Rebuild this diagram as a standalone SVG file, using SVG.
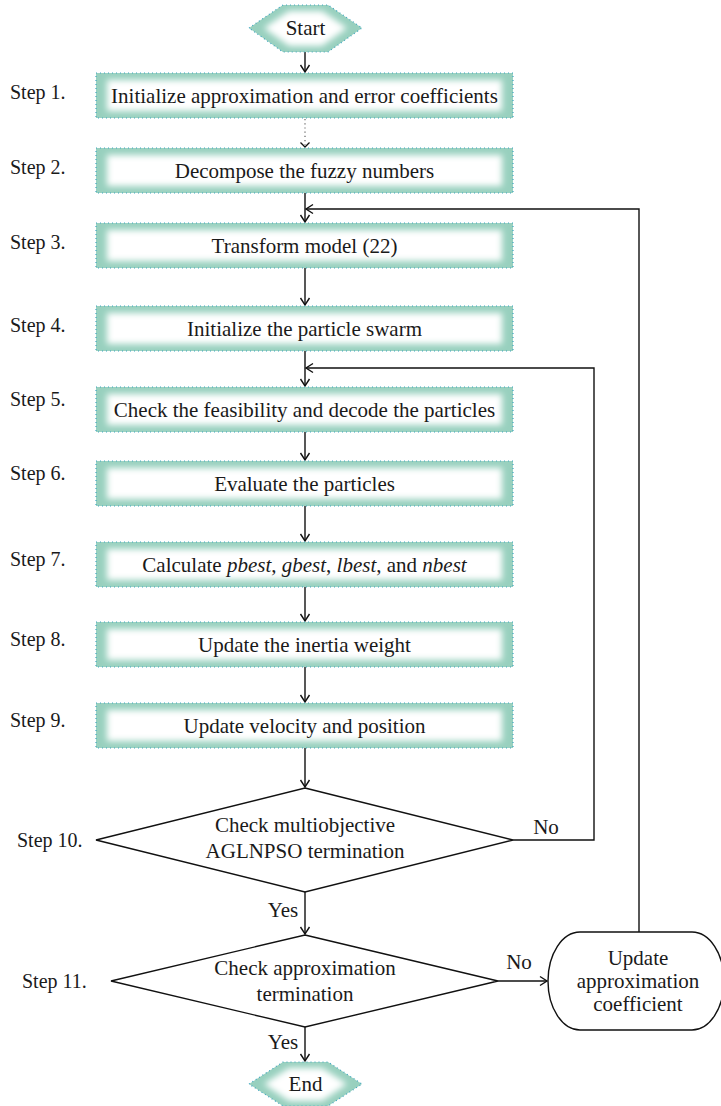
<svg xmlns="http://www.w3.org/2000/svg" width="721" height="1106" viewBox="0 0 721 1106">
  <style>
    text { font-family: "Liberation Serif", "Times New Roman", serif; fill: #1a1a1a; }
    .lbl { font-size: 21px; text-anchor: middle; }
    .step { font-size: 20px; text-anchor: start; }
    .base { fill: #98d0be; }
    .core { fill: #ffffff; filter: url(#soft); }
    .edge { fill: none; stroke: #3fa6c2; stroke-width: 1.2; stroke-dasharray: 1 3; }
    .line { fill: none; stroke: #111; stroke-width: 1.4; }
    .dots { fill: none; stroke: #555; stroke-width: 1.1; stroke-dasharray: 1.2 3; }
    .shape { fill: #fff; stroke: #111; stroke-width: 1.4; }
  </style>
  <defs>
    <filter id="soft" x="-10%" y="-40%" width="120%" height="180%">
      <feGaussianBlur stdDeviation="3.2"/>
    </filter>
    <marker id="arrow" viewBox="-10 -6 12 12" refX="0" refY="0" markerWidth="12" markerHeight="12" markerUnits="userSpaceOnUse" orient="auto">
      <path d="M-7,-4.5 L0,0 L-7,4.5" fill="none" stroke="#111" stroke-width="1.4"/>
    </marker>
  </defs>

  <rect width="721" height="1106" fill="#fff"/>

  <!-- connectors -->
  <g id="connectors">
    <line class="line" x1="305" y1="52" x2="305" y2="72" marker-end="url(#arrow)"/>
    <line class="dots" x1="305" y1="119" x2="305" y2="145"/>
    <path d="M300.5,142.5 L305,147 L309.5,142.5" fill="none" stroke="#111" stroke-width="1.3"/>
    <line class="line" x1="305" y1="193" x2="305" y2="222" marker-end="url(#arrow)"/>
    <polyline class="line" points="639,932 639,209 306,209" marker-end="url(#arrow)"/>
    <line class="line" x1="305" y1="268" x2="305" y2="305" marker-end="url(#arrow)"/>
    <line class="line" x1="305" y1="351" x2="305" y2="386" marker-end="url(#arrow)"/>
    <polyline class="line" points="513,840 594,840 594,368 306,368" marker-end="url(#arrow)"/>
    <line class="line" x1="305" y1="432" x2="305" y2="460" marker-end="url(#arrow)"/>
    <line class="line" x1="305" y1="506" x2="305" y2="541" marker-end="url(#arrow)"/>
    <line class="line" x1="305" y1="587" x2="305" y2="621" marker-end="url(#arrow)"/>
    <line class="line" x1="305" y1="667" x2="305" y2="702" marker-end="url(#arrow)"/>
    <line class="line" x1="305" y1="748" x2="305" y2="787" marker-end="url(#arrow)"/>
    <line class="line" x1="305" y1="892" x2="305" y2="934" marker-end="url(#arrow)"/>
    <line class="line" x1="498" y1="981" x2="547" y2="981" marker-end="url(#arrow)"/>
    <line class="line" x1="305" y1="1027" x2="305" y2="1061" marker-end="url(#arrow)"/>
    <text class="lbl" x="546" y="834">No</text>
    <text class="lbl" x="283" y="917">Yes</text>
    <text class="lbl" x="519" y="969">No</text>
    <text class="lbl" x="283" y="1049">Yes</text>
  </g>

  <!-- start -->
  <g id="start">
    <polygon class="base" points="249,28 283,5 328,5 362,28 328,52 283,52"/>
    <polygon class="core" points="264,28 289,11 322,11 347,28 322,46 289,46"/>
    <polygon class="edge" points="249,28 283,5 328,5 362,28 328,52 283,52"/>
    <text class="lbl" x="305.5" y="35">Start</text>
  </g>

  <!-- process steps -->
  <g id="step1">
    <text class="step" x="10" y="99">Step 1.</text>
    <rect class="base" x="96" y="73" width="417" height="45"/>
    <rect class="core" x="107" y="80" width="395" height="31"/>
    <rect class="edge" x="96" y="73" width="417" height="45"/>
    <text class="lbl" x="304.5" y="103">Initialize approximation and error coefficients</text>
  </g>
  <g id="step2">
    <text class="step" x="10" y="174">Step 2.</text>
    <rect class="base" x="96" y="148" width="417" height="45"/>
    <rect class="core" x="107" y="155" width="395" height="31"/>
    <rect class="edge" x="96" y="148" width="417" height="45"/>
    <text class="lbl" x="304.5" y="178">Decompose the fuzzy numbers</text>
  </g>
  <g id="step3">
    <text class="step" x="10" y="249">Step 3.</text>
    <rect class="base" x="96" y="223" width="417" height="45"/>
    <rect class="core" x="107" y="230" width="395" height="31"/>
    <rect class="edge" x="96" y="223" width="417" height="45"/>
    <text class="lbl" x="304.5" y="253">Transform model (22)</text>
  </g>
  <g id="step4">
    <text class="step" x="10" y="332">Step 4.</text>
    <rect class="base" x="96" y="306" width="417" height="45"/>
    <rect class="core" x="107" y="313" width="395" height="31"/>
    <rect class="edge" x="96" y="306" width="417" height="45"/>
    <text class="lbl" x="304.5" y="336">Initialize the particle swarm</text>
  </g>
  <g id="step5">
    <text class="step" x="10" y="406">Step 5.</text>
    <rect class="base" x="96" y="387" width="417" height="45"/>
    <rect class="core" x="107" y="394" width="395" height="31"/>
    <rect class="edge" x="96" y="387" width="417" height="45"/>
    <text class="lbl" x="304.5" y="417">Check the feasibility and decode the particles</text>
  </g>
  <g id="step6">
    <text class="step" x="10" y="480">Step 6.</text>
    <rect class="base" x="96" y="461" width="417" height="45"/>
    <rect class="core" x="107" y="468" width="395" height="31"/>
    <rect class="edge" x="96" y="461" width="417" height="45"/>
    <text class="lbl" x="304.5" y="491">Evaluate the particles</text>
  </g>
  <g id="step7">
    <text class="step" x="10" y="566">Step 7.</text>
    <rect class="base" x="96" y="542" width="417" height="45"/>
    <rect class="core" x="107" y="549" width="395" height="31"/>
    <rect class="edge" x="96" y="542" width="417" height="45"/>
    <text class="lbl" x="304.5" y="572">Calculate <tspan font-style="italic">pbest</tspan>, <tspan font-style="italic">gbest</tspan>, <tspan font-style="italic">lbest</tspan>, and <tspan font-style="italic">nbest</tspan></text>
  </g>
  <g id="step8">
    <text class="step" x="10" y="646">Step 8.</text>
    <rect class="base" x="96" y="622" width="417" height="45"/>
    <rect class="core" x="107" y="629" width="395" height="31"/>
    <rect class="edge" x="96" y="622" width="417" height="45"/>
    <text class="lbl" x="304.5" y="652">Update the inertia weight</text>
  </g>
  <g id="step9">
    <text class="step" x="10" y="727">Step 9.</text>
    <rect class="base" x="96" y="703" width="417" height="45"/>
    <rect class="core" x="107" y="710" width="395" height="31"/>
    <rect class="edge" x="96" y="703" width="417" height="45"/>
    <text class="lbl" x="304.5" y="733">Update velocity and position</text>
  </g>

  <!-- decisions -->
  <g id="step10">
    <text class="step" x="17" y="847">Step 10.</text>
    <polygon class="shape" points="305,788 513,840 305,892 96,840"/>
    <text class="lbl" x="305" y="832">Check multiobjective</text>
    <text class="lbl" x="305" y="858">AGLNPSO termination</text>
  </g>
  <g id="step11">
    <text class="step" x="22" y="988">Step 11.</text>
    <polygon class="shape" points="305,935 498,981 305,1027 111,981"/>
    <text class="lbl" x="305" y="975">Check approximation</text>
    <text class="lbl" x="305" y="1001">termination</text>
  </g>

  <!-- update approximation coefficient -->
  <g id="update">
    <rect class="shape" x="548" y="932" width="176" height="98" rx="32" ry="49"/>
    <text class="lbl" x="638" y="965">Update</text>
    <text class="lbl" x="638" y="988">approximation</text>
    <text class="lbl" x="638" y="1011">coefficient</text>
  </g>

  <!-- end -->
  <g id="end">
    <polygon class="base" points="249,1084 283,1062 328,1062 362,1084 328,1106 283,1106"/>
    <polygon class="core" points="264,1084 289,1068 322,1068 347,1084 322,1101 289,1101"/>
    <polygon class="edge" points="249,1084 283,1062 328,1062 362,1084 328,1106 283,1106"/>
    <text class="lbl" x="305.5" y="1091">End</text>
  </g>
</svg>
